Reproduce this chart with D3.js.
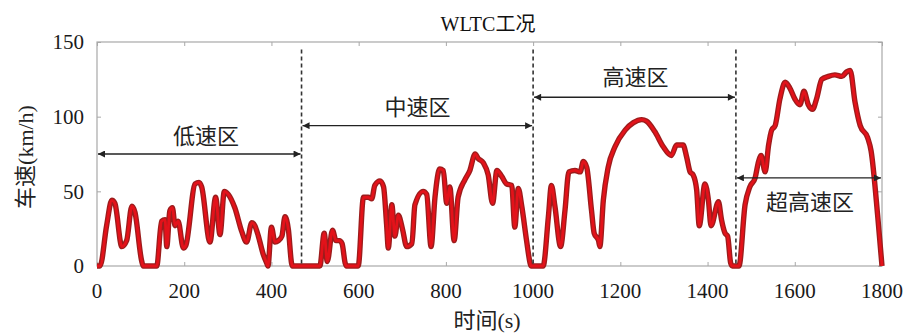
<!DOCTYPE html>
<head>
  <meta charset="utf-8">
  <script src="https://d3js.org/d3.v7.min.js"></script>
  <style>
    body { margin:0; background:#fff; }
  </style>
</head>

<body>
  <script>
    var width = 908, height = 333;
    var margin = {top: 42, right: 26, bottom: 67, left: 97};
    var FONT = "'Liberation Serif', 'Times New Roman', Times, 'DejaVu Serif', 'Noto Sans CJK SC', serif";

    // time (s) and speed (km/h)
    var times = [0,7,22,34,41,57,68,80,87,102,106,137,148,156,160,167,173,179,186,198,204,225,234,240,259,272,282,292,301,316,332,343,355,362,370,381,389,392,400,408,416,424,431,439,446,448,511,521,528,540,548,556,562,569,572,599,611,622,630,637,649,657,664,668,676,683,691,701,710,722,729,748,756,766,775,786,794,802,809,819,828,844,855,867,874,886,897,907,917,928,939,951,958,966,974,985,993,995,1023,1035,1042,1050,1063,1073,1082,1096,1108,1115,1123,1134,1140,1150,1153,1161,1172,1188,1211,1230,1249,1260,1279,1298,1317,1329,1344,1352,1360,1367,1375,1381,1394,1402,1408,1425,1432,1440,1446,1453,1457,1472,1486,1497,1509,1517,1523,1532,1540,1547,1555,1566,1578,1589,1600,1612,1621,1631,1641,1650,1662,1677,1692,1708,1719,1727,1738,1750,1767,1775,1790,1800];
    var speeds = [0,0,27,44,42,13,17,40,36,4,0,0,30,31,13,37,39,27,30,12,14,55,56,53,16,46,21,50,48,39,23,16,29,27,20,8,2,0,26,16,17,20,33,24,2,0,0,22,3,24,17,17,15,2,0,0,46,46,45,54,57,53,28,12,41,20,34,24,13,15,41,50,48,13,46,65,64,42,53,17,46,58,64,75,72,69,61,42,64,60,55,54,26,52,40,17,2,0,0,33,54,40,13,37,63,64,63,70,66,37,22,17,13,44,66,80,91,96,98,97,90,80,74,81,81,73,63,61,51,27,55,44,27,43,31,22,20,2,0,0,41,53,59,70,74,63,81,91,94,112,123,119,112,108,117,108,105,112,125,127,128,127,130,131,110,94,86,77,34,0];

    var xTicks = [0,200,400,600,800,1000,1200,1400,1600,1800];
    var yTicks = [0,50,100,150];

    // phase boundaries and arrow labels
    var bounds = [469, 1000, 1465];
    var phases = [
      {name: "低速区", from: 0, to: 469, arrowY: 75, labelX: 250, labelY: 87},
      {name: "中速区", from: 469, to: 1000, arrowY: 94, labelX: 735, labelY: 107},
      {name: "高速区", from: 1000, to: 1465, arrowY: 113, labelX: 1235, labelY: 127},
      {name: "超高速区", from: 1465, to: 1800, arrowY: 59, labelX: 1635, labelY: 43}
    ];

    var data = times.map(function(t, i) { return {t: t, v: speeds[i]}; });

    var svg = d3.select("body").append("svg")
      .attr("width", width)
      .attr("height", height)
      .attr("font-family", FONT);

    var defs = svg.append("defs");
    ["start", "end"].forEach(function(k) {
      defs.append("marker")
        .attr("id", "arr-" + k)
        .attr("viewBox", "0 0 10 10")
        .attr("refX", k == "end" ? 10 : 0).attr("refY", 5)
        .attr("markerWidth", 9).attr("markerHeight", 7)
        .attr("markerUnits", "userSpaceOnUse")
        .attr("orient", "auto")
        .append("path")
        .attr("d", k == "end" ? "M0,0L10,5L0,10z" : "M10,0L0,5L10,10z")
        .attr("fill", "#222");
    });

    var w = width - margin.left - margin.right;
    var h = height - margin.top - margin.bottom;
    var g = svg.append("g").attr("transform", "translate(" + margin.left + "," + margin.top + ")");

    var x = d3.scaleLinear().domain([0, 1800]).range([0, w]);
    var y = d3.scaleLinear().domain([0, 150]).range([h, 0]);

    // frame + inward ticks on all four sides
    var frameCol = "#a8a8a8";
    function styleAxis(a) {
      a.select(".domain").remove();
      a.selectAll(".tick line").attr("stroke", frameCol);
    }
    g.append("g").attr("transform", "translate(0," + h + ")")
      .call(d3.axisBottom(x).tickValues(xTicks).tickSize(-4).tickFormat(""))
      .call(styleAxis);
    g.append("g")
      .call(d3.axisTop(x).tickValues(xTicks).tickSize(-4).tickFormat(""))
      .call(styleAxis);
    g.append("g")
      .call(d3.axisLeft(y).tickValues(yTicks).tickSize(-4).tickFormat(""))
      .call(styleAxis);
    g.append("g").attr("transform", "translate(" + w + ",0)")
      .call(d3.axisRight(y).tickValues(yTicks).tickSize(-4).tickFormat(""))
      .call(styleAxis);
    g.append("rect").attr("width", w).attr("height", h)
      .attr("fill", "none").attr("stroke", frameCol).attr("stroke-width", 1.2);

    // tick labels
    g.selectAll(".xl").data(xTicks).enter().append("text")
      .attr("x", function(d) { return x(d); })
      .attr("y", h + 32)
      .attr("text-anchor", "middle")
      .attr("font-family", FONT)
      .attr("fill", "#1a1a1a")
      .style("font-size", "21px")
      .text(function(d) { return d; });
    g.selectAll(".yl").data(yTicks).enter().append("text")
      .attr("x", -13)
      .attr("y", function(d) { return y(d); })
      .attr("dy", "0.35em")
      .attr("text-anchor", "end")
      .attr("font-family", FONT)
      .attr("fill", "#1a1a1a")
      .style("font-size", "21px")
      .text(function(d) { return d; });

    // speed curve: dark edge under a bright red core
    var line = d3.line()
      .x(function(d) { return x(d.t); })
      .y(function(d) { return y(d.v); })
      .curve(d3.curveMonotoneX);
    g.append("path").datum(data)
      .attr("d", line).attr("fill", "none")
      .attr("stroke", "#9c1c1c").attr("stroke-width", 5.4)
      .attr("stroke-linejoin", "round");
    g.append("path").datum(data)
      .attr("d", line).attr("fill", "none")
      .attr("stroke", "#e3121a").attr("stroke-width", 2.8)
      .attr("stroke-linejoin", "round");

    // phase boundaries
    g.selectAll(".bound").data(bounds).enter().append("line")
      .attr("x1", function(d) { return x(d); })
      .attr("x2", function(d) { return x(d); })
      .attr("y1", y(145)).attr("y2", y(0))
      .attr("stroke", "#333").attr("stroke-width", 1.6)
      .attr("stroke-dasharray", "4,3");

    // arrows and labels
    g.selectAll(".arrow").data(phases).enter().append("line")
      .attr("x1", function(d) { return x(d.from) + 1; })
      .attr("x2", function(d) { return x(d.to) - 1; })
      .attr("y1", function(d) { return y(d.arrowY); })
      .attr("y2", function(d) { return y(d.arrowY); })
      .attr("stroke", "#222").attr("stroke-width", 1.4)
      .attr("marker-start", "url(#arr-start)")
      .attr("marker-end", "url(#arr-end)");
    g.selectAll(".plabel").data(phases).enter().append("text")
      .attr("x", function(d) { return x(d.labelX); })
      .attr("y", function(d) { return y(d.labelY); })
      .attr("dy", "0.38em")
      .attr("text-anchor", "middle")
      .attr("font-family", FONT)
      .attr("fill", "#222")
      .style("font-size", "22px")
      .text(function(d) { return d.name; });

    // titles
    svg.append("text")
      .attr("x", 488).attr("y", 31)
      .attr("text-anchor", "middle")
      .attr("font-family", FONT)
      .attr("fill", "#111")
      .style("font-size", "20px")
      .text("WLTC工况");
    svg.append("text")
      .attr("x", 487).attr("y", 328)
      .attr("text-anchor", "middle")
      .attr("font-family", FONT)
      .attr("fill", "#222")
      .style("font-size", "22px")
      .text("时间(s)");
    svg.append("text")
      .attr("transform", "translate(33,157)rotate(-90)")
      .attr("text-anchor", "middle")
      .attr("font-family", FONT)
      .attr("fill", "#222")
      .style("font-size", "22px")
      .text("车速(km/h)");
  </script>
</body>

</html>
